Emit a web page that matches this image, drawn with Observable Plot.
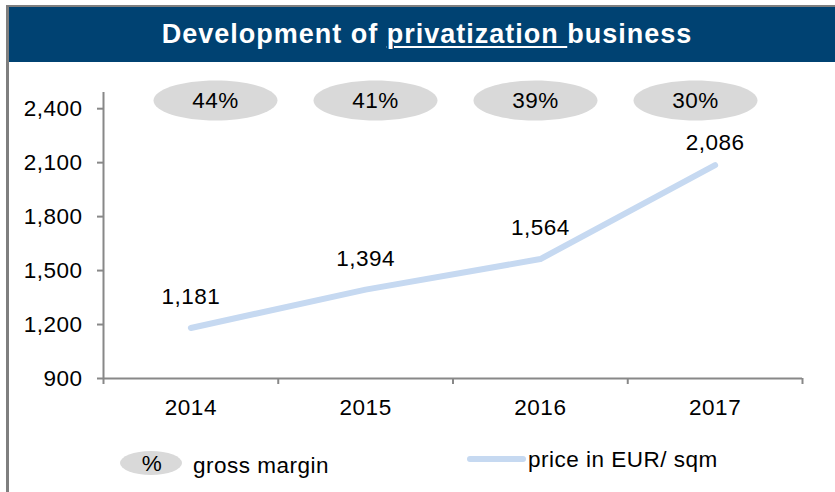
<!DOCTYPE html>
<html>
<head>
<meta charset="utf-8">
<script src="https://cdn.jsdelivr.net/npm/d3@7"></script>
<script src="https://cdn.jsdelivr.net/npm/@observablehq/plot@0.6"></script>
<style>
  html, body { margin: 0; padding: 0; background: #fff; }
  #wrap { position: relative; width: 835px; height: 492px; overflow: hidden; font-family: "Liberation Sans", Arial, sans-serif; background: #fff; }
  #border { position: absolute; left: 6px; top: 5px; right: -5px; bottom: -5px; border-top: 2px solid #7f7f7f; border-left: 3px solid #7f7f7f; }
  #header { position: absolute; left: 9px; top: 7px; width: 826px; height: 55px; background: #004272; }
  #title { position: absolute; left: 0; top: 7px; width: 854px; height: 55px; line-height: 55px; text-align: center; color: #fff; font-weight: bold; font-size: 27px; letter-spacing: 1px; }
  #title u { text-decoration-thickness: 2px; text-underline-offset: 3px; }
  .layer { position: absolute; left: 0; top: 0; }
  #legend { position: absolute; left: 0; top: 0; }
</style>
</head>
<body>
<div id="wrap">
  <div id="border"></div>
  <div id="header"></div>
  <div id="title">Development of <u>privatization </u>business</div>
  <div id="main" class="layer"></div>
  <div id="margins" class="layer" style="top:78px"></div>
  <svg id="legend" width="835" height="492"></svg>
</div>
<script>
// ---- data ----
const years = [2014, 2015, 2016, 2017];
const prices = [1181, 1394, 1564, 2086];
const grossMargins = [44, 41, 39, 30];
const yTicks = [900, 1200, 1500, 1800, 2100, 2400];
const seriesName = "price in EUR/ sqm";
const marginName = "gross margin";

const lineColor = "#c6d9f1";
const ellipseColor = "#d9d9d9";
const axisColor = "#888888";
const font = "'Liberation Sans', Arial, sans-serif";

const priceData = years.map((y, i) => ({year: y, price: prices[i]}));
const marginData = years.map((y, i) => ({year: y, margin: grossMargins[i]}));
const boundaries = years.map(y => y - 0.5).concat([years[years.length - 1] + 0.5]);
const fmt = d3.format(",");

const main = Plot.plot({
  width: 835,
  height: 492,
  marginLeft: 103,
  marginRight: 33,
  marginTop: 92,
  marginBottom: 114,
  style: {fontFamily: font, fontSize: "22.5px", background: "transparent", color: "#000", letterSpacing: "0.5px", overflow: "visible"},
  x: {type: "linear", domain: [boundaries[0], boundaries[boundaries.length - 1]], axis: null},
  y: {domain: [900, 2490], axis: null},
  marks: [
    Plot.ruleX([boundaries[0]], {stroke: axisColor, strokeWidth: 2}),
    Plot.ruleY([yTicks[0]], {stroke: axisColor, strokeWidth: 2}),
    Plot.axisY({ticks: yTicks, tickFormat: fmt, tickSize: 6, tickPadding: 15, stroke: axisColor, strokeWidth: 2, strokeOpacity: 1, fill: "#000", fontSize: 22.5, label: null}),
    Plot.axisX({ticks: boundaries, tickFormat: () => "", tickSize: 6, stroke: axisColor, strokeWidth: 2, strokeOpacity: 1, label: null}),
    Plot.axisX({ticks: years, tickFormat: d => String(d), tickSize: 0, tickPadding: 21, fill: "#000", fontSize: 22.5, label: null}),
    Plot.line(priceData, {x: "year", y: "price", stroke: lineColor, strokeWidth: 6, strokeLinecap: "round", strokeLinejoin: "round"}),
    Plot.text(priceData, {filter: (d, i) => i < priceData.length - 1, x: "year", y: "price", text: d => fmt(d.price), dy: -31, fill: "#000", fontSize: 22.5}),
    Plot.text(priceData, {filter: (d, i) => i === priceData.length - 1, x: "year", y: "price", text: d => fmt(d.price), dy: -22, fill: "#000", fontSize: 22.5})
  ]
});
document.getElementById("main").appendChild(main);

// ellipse symbol
function ellipseSymbol(rx, ry) {
  const k = 0.5522848;
  return {
    draw(context) {
      context.moveTo(rx, 0);
      context.bezierCurveTo(rx, ry * k, rx * k, ry, 0, ry);
      context.bezierCurveTo(-rx * k, ry, -rx, ry * k, -rx, 0);
      context.bezierCurveTo(-rx, -ry * k, -rx * k, -ry, 0, -ry);
      context.bezierCurveTo(rx * k, -ry, rx, -ry * k, rx, 0);
      context.closePath();
    }
  };
}

const marginPlot = Plot.plot({
  width: 835,
  height: 44,
  margin: 0,
  style: {fontFamily: font, fontSize: "22.5px", background: "transparent", color: "#000", letterSpacing: "0.5px", overflow: "visible"},
  x: {type: "point", domain: years, range: [215, 695], padding: 0, axis: null},
  marks: [
    Plot.dot(marginData, {x: "year", symbol: ellipseSymbol(62, 20), fill: ellipseColor, stroke: null, r: 10}),
    Plot.text(marginData, {x: "year", text: d => d.margin + "%", fill: "#000", fontSize: 22.5})
  ]
});
document.getElementById("margins").appendChild(marginPlot);

// legend
const lg = d3.select("#legend").style("font-family", font).style("font-size", "22.5px").style("letter-spacing", "0.5px");
lg.append("ellipse").attr("cx", 151).attr("cy", 463).attr("rx", 31).attr("ry", 12).attr("fill", ellipseColor);
lg.append("text").attr("x", 152).attr("y", 463).attr("dy", "0.35em").attr("text-anchor", "middle").text("%");
lg.append("text").attr("x", 193).attr("y", 465).attr("dy", "0.35em").text(marginName);
lg.append("line").attr("x1", 470).attr("x2", 523).attr("y1", 459).attr("y2", 459).attr("stroke", lineColor).attr("stroke-width", 6).attr("stroke-linecap", "round");
lg.append("text").attr("x", 528).attr("y", 459).attr("dy", "0.35em").text(seriesName);
</script>
</body>
</html>
